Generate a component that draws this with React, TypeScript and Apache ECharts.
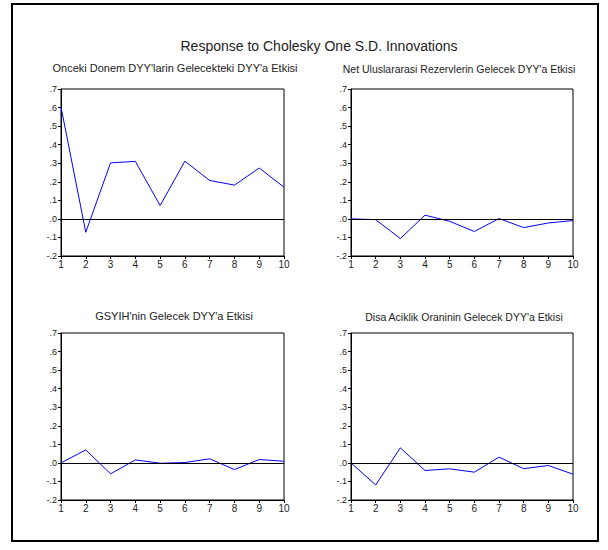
import React, { useEffect, useRef } from "react";
import * as echarts from "echarts";

const periods = ["1", "2", "3", "4", "5", "6", "7", "8", "9", "10"];
const panelTitles = [
  "Onceki Donem DYY'larin Gelecekteki DYY'a Etkisi",
  "Net Uluslararasi Rezervlerin Gelecek DYY'a Etkisi",
  "GSYIH'nin Gelecek DYY'a Etkisi",
  "Disa Aciklik Oraninin Gelecek DYY'a Etkisi",
];
const mainTitle = "Response to Cholesky One S.D. Innovations";

const onceki = [0.603, -0.072, 0.302, 0.31, 0.072, 0.311, 0.207, 0.182, 0.274, 0.171];
const rezerv = [0.0, -0.004, -0.106, 0.02, -0.013, -0.068, 0.002, -0.047, -0.022, -0.009];
const gsyih = [0.0, 0.07, -0.059, 0.016, -0.002, 0.002, 0.022, -0.036, 0.018, 0.009];
const disa = [0.0, -0.119, 0.081, -0.041, -0.032, -0.05, 0.031, -0.031, -0.014, -0.061];

const seriesData = [onceki, rezerv, gsyih, disa];

const FONT = "'Liberation Sans', Arial, sans-serif";

export default function App() {
  const ref = useRef<HTMLDivElement>(null);
  useEffect(() => {
    if (!ref.current) return;
    const chart = echarts.init(ref.current, undefined, { renderer: "svg" });
    const grids = [
      { left: 61, top: 89, width: 223, height: 167 },
      { left: 351, top: 89, width: 222, height: 167 },
      { left: 61, top: 333, width: 223, height: 167 },
      { left: 351, top: 333, width: 222, height: 167 },
    ];
    const subCenters = [170, 454, 169, 459];
    const subTops = [57, 58, 305, 306];
    const subSizes = [11, 10.5, 11, 10.5];
    const fmt = (v: number) => {
      const s = v.toFixed(1);
      if (s === "-0.0") return ".0";
      return s.replace("0.", ".");
    };
    chart.setOption({
      animation: false,
      backgroundColor: "#ffffff",
      textStyle: { fontFamily: FONT },
      title: [
        {
          text: mainTitle,
          left: 314,
          top: 34,
          textAlign: "center",
          textStyle: { fontSize: 14, fontWeight: "normal", color: "#222", fontFamily: FONT },
        },
        ...grids.map((g, i) => ({
          text: panelTitles[i],
          left: subCenters[i],
          top: subTops[i],
          textAlign: "center",
          textStyle: { fontSize: subSizes[i], fontWeight: "normal", color: "#222", fontFamily: FONT },
        })),
      ],
      graphic: [
        {
          type: "rect",
          shape: { x: 12, y: 4, width: 586, height: 537 },
          style: { fill: "none", stroke: "#000", lineWidth: 2 },
          silent: true,
        },
      ],
      grid: grids.map((g) => ({
        ...g,
        show: true,
        borderColor: "#000",
        borderWidth: 1,
        backgroundColor: "transparent",
      })),
      xAxis: grids.map((_, i) => ({
        type: "category",
        gridIndex: i,
        data: periods,
        boundaryGap: false,
        axisLine: { show: true, onZero: false, lineStyle: { color: "#000", width: 1 } },
        axisTick: { show: true, inside: false, length: 3, lineStyle: { color: "#000" } },
        axisLabel: { color: "#222", fontSize: 10, margin: 3, fontFamily: FONT },
        splitLine: { show: false },
      })),
      yAxis: grids.map((_, i) => ({
        type: "value",
        gridIndex: i,
        min: -0.2,
        max: 0.7,
        interval: 0.1,
        axisLine: { show: true, lineStyle: { color: "#000", width: 1 } },
        axisTick: { show: true, inside: false, length: 3, lineStyle: { color: "#000" } },
        axisLabel: { color: "#222", fontSize: 9, margin: 4, fontFamily: FONT, formatter: fmt },
        splitLine: { show: false },
      })),
      series: seriesData.map((d, i) => ({
        type: "line",
        xAxisIndex: i,
        yAxisIndex: i,
        data: d,
        symbol: "none",
        lineStyle: { color: "#0000ff", width: 1 },
        markLine: {
          silent: true,
          symbol: "none",
          label: { show: false },
          lineStyle: { color: "#000", type: "solid", width: 1 },
          data: [{ yAxis: 0 }],
        },
      })),
    });
    return () => chart.dispose();
  }, []);
  return (
    <div
      ref={ref}
      style={{ position: "fixed", left: 0, top: 0, width: 608, height: 550 }}
    />
  );
}
